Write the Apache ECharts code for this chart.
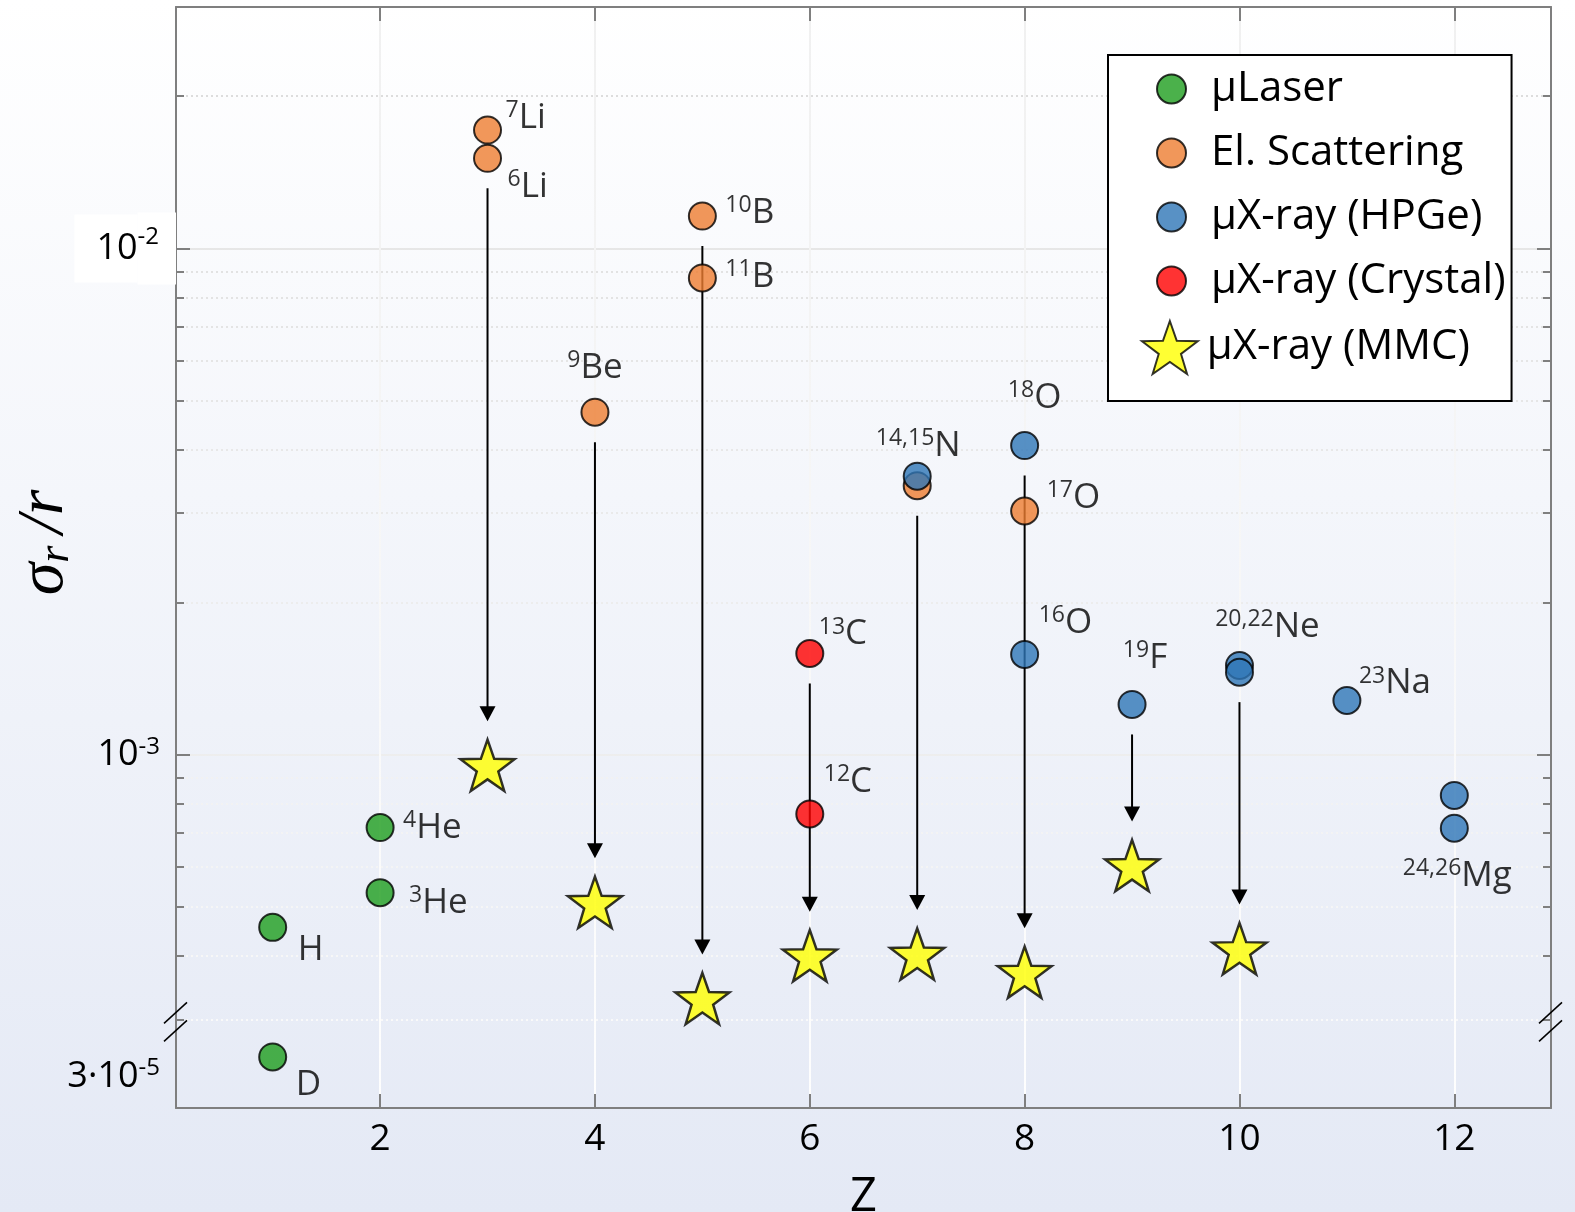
<!DOCTYPE html>
<html><head><meta charset="utf-8">
<script src="https://cdn.jsdelivr.net/npm/echarts@6/dist/echarts.min.js"></script>
<style>html,body{margin:0;padding:0;background:#fff;} #chart{width:1575px;height:1212px;}</style>
</head><body><div id="chart"></div>
<script>
// ---------------- data ----------------
const laserZ = [1, 1, 2, 2];
const laserVal = [4.56e-4, 3.28e-5, 5.34e-4, 7.18e-4];
const laserLabel = ['H', 'D', '3He', '4He'];

const elScatZ = [3, 3, 4, 5, 5, 7, 8];
const elScatVal = [1.714e-2, 1.507e-2, 4.75e-3, 1.159e-2, 8.75e-3, 3.40e-3, 3.03e-3];
const elScatLabel = ['7Li', '6Li', '9Be', '10B', '11B', '', '17O'];

const hpgeZ = [7, 8, 8, 9, 10, 10, 11, 12, 12];
const hpgeVal = [3.55e-3, 4.08e-3, 1.578e-3, 1.257e-3, 1.501e-3, 1.456e-3, 1.28e-3, 8.31e-4, 7.16e-4];
const hpgeLabel = ['14,15N', '18O', '16O', '19F', '20,22Ne', '', '23Na', '', '24,26Mg'];

const crystalZ = [6, 6];
const crystalVal = [1.585e-3, 7.64e-4];
const crystalLabel = ['13C', '12C'];

const mmcZ = [3, 4, 5, 6, 7, 8, 9, 10];
const mmcVal = [9.53e-4, 5.11e-4, 3.30e-4, 4.01e-4, 4.04e-4, 3.72e-4, 6.04e-4, 4.14e-4];
// value of the measurement each arrow starts from (same Z as the MMC star)
const arrowFromVal = [1.507e-2, 4.75e-3, 1.159e-2, 1.585e-3, 3.40e-3, 4.08e-3, 1.257e-3, 1.456e-3];

const seriesNames = ['μLaser', 'El. Scattering', 'μX-ray (HPGe)', 'μX-ray (Crystal)', 'μX-ray (MMC)'];

const xTicks = [2, 4, 6, 8, 10, 12];
const yMajorTicks = [1e-3, 1e-2];
const yMinorTicks = [3e-4, 4e-4, 5e-4, 6e-4, 7e-4, 8e-4, 9e-4, 2e-3, 3e-3, 4e-3, 5e-3, 6e-3, 7e-3, 8e-3, 9e-3, 2e-2];
const yLabelTicks = [3e-5, 1e-3, 1e-2];
const yBreak = [3.89e-5, 3e-4];
const xRange = [0.1, 12.9];
const yRange = [2.6e-5, 3e-2];

// ---------------- styling ----------------
const FONT = 'Open Sans';
const AXIS_COLOR = '#7f7f7f';
const labelPlace = {
  'H': ['left', 25, 23], 'D': ['left', 23, 28], '3He': ['left', 29, 10], '4He': ['left', 23, 0],
  '7Li': ['left', 18, -12], '6Li': ['left', 20, 29], '9Be': ['center', 0, -44],
  '10B': ['left', 23, -3], '11B': ['left', 23, -1], '17O': ['left', 22, -13],
  '14,15N': ['center', 1, -30], '18O': ['center', 10, -48], '16O': ['left', 14, -31],
  '19F': ['center', 13, -46], '20,22Ne': ['center', 28, -38], '23Na': ['left', 12, -17],
  '24,26Mg': ['center', 3, 48], '13C': ['left', 9, -19], '12C': ['left', 14, -32]
};
const labelRich = {
  s: { fontFamily: FONT, fontSize: 23, lineHeight: 23, verticalAlign: 'top', color: '#000' },
  m: { fontFamily: FONT, fontSize: 35, lineHeight: 38, color: '#000' }
};

function points(zs, vals, labels) {
  return zs.map((z, i) => {
    const item = { value: [z, vals[i]] };
    const lab = labels && labels[i];
    if (lab) {
      const p = labelPlace[lab];
      const m = lab.match(/^([\d,]*)(.*)$/);
      item.label = {
        show: true, position: 'inside', align: p[0], verticalAlign: 'middle',
        offset: [p[1], p[2]],
        formatter: (m[1] ? '{s|' + m[1] + '}' : '') + '{m|' + m[2] + '}'
      };
    }
    return item;
  });
}

function starPath() {
  let d = '';
  for (let k = 0; k < 10; k++) {
    const r = k % 2 === 0 ? 50 : 20;
    const a = (-90 + k * 36) * Math.PI / 180;
    d += (k === 0 ? 'M' : 'L') + (50 + r * Math.cos(a)).toFixed(2) + ' ' + (50 + r * Math.sin(a)).toFixed(2) + ' ';
  }
  return 'path://' + d + 'Z';
}
const STAR = starPath();

const G = echarts.graphic.LinearGradient;
const minorLineColor = new G(0, 0, 0, 1212, [{ offset: 0, color: '#dadada' }, { offset: 1, color: '#ffffff' }], true);
const vLineColor = new G(0, 0, 0, 1212, [{ offset: 0, color: '#f0f0f0' }, { offset: 1, color: '#ffffff' }], true);
const majorLineColor = new G(0, 0, 0, 1212, [{ offset: 0, color: '#e3e3e3' }, { offset: 1, color: '#f4f4f4' }], true);

function yAxisBase(extra) {
  return Object.assign({
    type: 'log', logBase: 10, min: yRange[0], max: yRange[1],
    breaks: [{ start: yBreak[0], end: yBreak[1], gap: 0 }],
    breakArea: { show: false },
    axisLine: { show: false },
    axisLabel: { show: false },
    axisTick: { show: false },
    splitLine: { show: false },
    minorTick: { show: false },
    minorSplitLine: { show: false }
  }, extra);
}

const circleStyle = c => ({ color: c, borderColor: '#000', borderWidth: 2 });
const scatterBase = { type: 'scatter', symbol: 'circle', symbolSize: 27, z: 3,
  label: { show: false, rich: labelRich } };

const tickLabelRich = {
  b: { fontFamily: FONT, fontSize: 36, lineHeight: 40, color: '#000' },
  s: { fontFamily: FONT, fontSize: 24, lineHeight: 24, verticalAlign: 'top', color: '#000', padding: [0, 16, 0, 0] },
  wb: { fontFamily: FONT, fontSize: 36, lineHeight: 40, color: '#000', backgroundColor: '#fff', padding: [16, 0, 16, 22] },
  ws: { fontFamily: FONT, fontSize: 24, lineHeight: 24, color: '#000', backgroundColor: '#fff', padding: [13, 17, 35, 0] }
};
function yTickLabel(v) {
  if (v < 1e-4) return '{b|3·10}{s|-5}';
  const e = Math.round(Math.log10(v));
  return e === -2 ? '{wb|10}{ws|' + e + '}' : '{b|10}{s|' + e + '}';
}

const option = {
  animation: false,
  backgroundColor: new G(0, 0, 0, 1, [{ offset: 0, color: '#ffffff' }, { offset: 1, color: '#e4e9f5' }]),
  grid: { left: 176, right: 24, top: 7, bottom: 104, containLabel: false, outerBoundsMode: 'none' },
  xAxis: [
    {
      type: 'value', position: 'bottom', min: xRange[0], max: xRange[1],
      axisLine: { show: true, onZero: false, lineStyle: { color: AXIS_COLOR, width: 2 } },
      axisTick: { show: true, inside: true, length: 14, customValues: xTicks, lineStyle: { color: AXIS_COLOR, width: 2 } },
      axisLabel: { show: true, customValues: xTicks, fontFamily: FONT, fontSize: 37, color: '#000', margin: 13 },
      splitLine: { show: true, lineStyle: { color: vLineColor, width: 2 } },
      name: 'Z', nameLocation: 'middle', nameGap: 66, nameMoveOverlap: false,
      nameTextStyle: { fontFamily: FONT, fontSize: 47, color: '#000' }
    },
    {
      type: 'value', position: 'top', min: xRange[0], max: xRange[1],
      axisLine: { show: true, onZero: false, lineStyle: { color: AXIS_COLOR, width: 2 } },
      axisTick: { show: true, inside: true, length: 14, customValues: xTicks, lineStyle: { color: AXIS_COLOR, width: 2 } },
      axisLabel: { show: false },
      splitLine: { show: false }
    }
  ],
  yAxis: [
    yAxisBase({
      position: 'left',
      axisLine: { show: true, onZero: false, lineStyle: { color: AXIS_COLOR, width: 2 } },
      axisTick: { show: true, inside: true, length: 14, customValues: yMajorTicks, lineStyle: { color: AXIS_COLOR, width: 2 } },
      axisLabel: { show: true, customValues: yLabelTicks, margin: 0, formatter: yTickLabel, rich: tickLabelRich },
      splitLine: { show: true, lineStyle: { color: majorLineColor, width: 2 } },
      name: 'σ{sub|r}/r', nameLocation: 'middle', nameRotate: 90, nameGap: 98, nameMoveOverlap: false,
      nameTextStyle: {
        fontFamily: 'Liberation Serif', fontStyle: 'italic', fontSize: 66, color: '#000',
        padding: [0, 0, 0, 30],
        rich: { sub: { fontFamily: 'Liberation Serif', fontStyle: 'italic', fontSize: 44, verticalAlign: 'bottom', color: '#000', padding: [22, 12, 0, 0] } }
      }
    }),
    yAxisBase({
      position: 'left',
      axisTick: { show: true, inside: true, length: 8, customValues: yMinorTicks, lineStyle: { color: AXIS_COLOR, width: 2 } },
      splitLine: { show: true, lineStyle: { color: minorLineColor, width: 2, type: [2, 3] } }
    }),
    yAxisBase({
      position: 'right',
      axisLine: { show: true, onZero: false, lineStyle: { color: AXIS_COLOR, width: 2 } },
      axisTick: { show: true, inside: true, length: 14, customValues: yMajorTicks, lineStyle: { color: AXIS_COLOR, width: 2 } }
    }),
    yAxisBase({
      position: 'right',
      axisTick: { show: true, inside: true, length: 8, customValues: yMinorTicks, lineStyle: { color: AXIS_COLOR, width: 2 } }
    })
  ],
  legend: [
    {
      data: seriesNames.slice(0, 4), orient: 'vertical', left: 1108, top: 55,
      itemWidth: 29, itemHeight: 29, itemGap: 20, icon: 'circle',
      padding: [12, 6, 98, 48], backgroundColor: '#fff', borderColor: '#000', borderWidth: 2, borderRadius: 0,
      selectedMode: false,
      textStyle: { fontFamily: FONT, fontSize: 42, lineHeight: 44, color: '#000', padding: [0, 0, 0, 20] }
    },
    {
      data: [seriesNames[4]], orient: 'vertical', left: 1141, top: 320,
      itemWidth: 64, itemHeight: 53, padding: 0, selectedMode: false,
      textStyle: { fontFamily: FONT, fontSize: 42, lineHeight: 44, color: '#000' }
    }
  ],
  series: [
    {
      name: 'arrows', type: 'custom', z: 1, silent: true,
      data: mmcZ.map((z, i) => [z, arrowFromVal[i], mmcVal[i]]),
      encode: { x: 0, y: [1, 2] },
      renderItem: (params, api) => {
        const p0 = api.coord([api.value(0), api.value(1)]);
        const p1 = api.coord([api.value(0), api.value(2)]);
        const x = p0[0], y0 = p0[1] + 30, tip = p1[1] - 44, head = 15, hw = 8;
        return { type: 'group', children: [
          { type: 'line', shape: { x1: x, y1: y0, x2: x, y2: tip - head + 1 }, style: { stroke: '#000', lineWidth: 2 } },
          { type: 'polygon', shape: { points: [[x - hw, tip - head], [x + hw, tip - head], [x, tip]] }, style: { fill: '#000' } }
        ] };
      }
    },
    {
      name: 'breakMarks', type: 'custom', z: 5, silent: true, clip: false,
      data: [[xRange[0], yBreak[1]]],
      encode: { x: 0, y: 1 },
      renderItem: (params, api) => {
        const cs = params.coordSys;
        const y = api.coord([api.value(0), api.value(1)])[1];
        const kids = [];
        [cs.x, cs.x + cs.width].forEach(X => {
          kids.push({ type: 'line', shape: { x1: X - 12, y1: y + 4, x2: X + 11, y2: y - 17 }, style: { stroke: '#000', lineWidth: 1.5 } });
          kids.push({ type: 'line', shape: { x1: X - 12, y1: y + 22, x2: X + 11, y2: y + 1 }, style: { stroke: '#000', lineWidth: 1.5 } });
        });
        return { type: 'group', children: kids };
      }
    },
    Object.assign({}, scatterBase, { name: seriesNames[0], itemStyle: circleStyle('#1e9e1e'), data: points(laserZ, laserVal, laserLabel) }),
    Object.assign({}, scatterBase, { name: seriesNames[1], itemStyle: circleStyle('#ed7d31'), data: points(elScatZ, elScatVal, elScatLabel) }),
    Object.assign({}, scatterBase, { name: seriesNames[2], itemStyle: circleStyle('#2e75b6'), data: points(hpgeZ, hpgeVal, hpgeLabel) }),
    Object.assign({}, scatterBase, { name: seriesNames[3], itemStyle: circleStyle('#ff0000'), data: points(crystalZ, crystalVal, crystalLabel) }),
    {
      name: seriesNames[4], type: 'scatter', symbol: STAR, symbolSize: 54, symbolKeepAspect: true, z: 3,
      itemStyle: { color: '#ffff00', borderColor: '#000', borderWidth: 2.5 },
      data: points(mmcZ, mmcVal, null)
    }
  ]
};

const chart = echarts.init(document.getElementById('chart'), null, { renderer: 'canvas' });
chart.setOption(option);
</script>
</body></html>
